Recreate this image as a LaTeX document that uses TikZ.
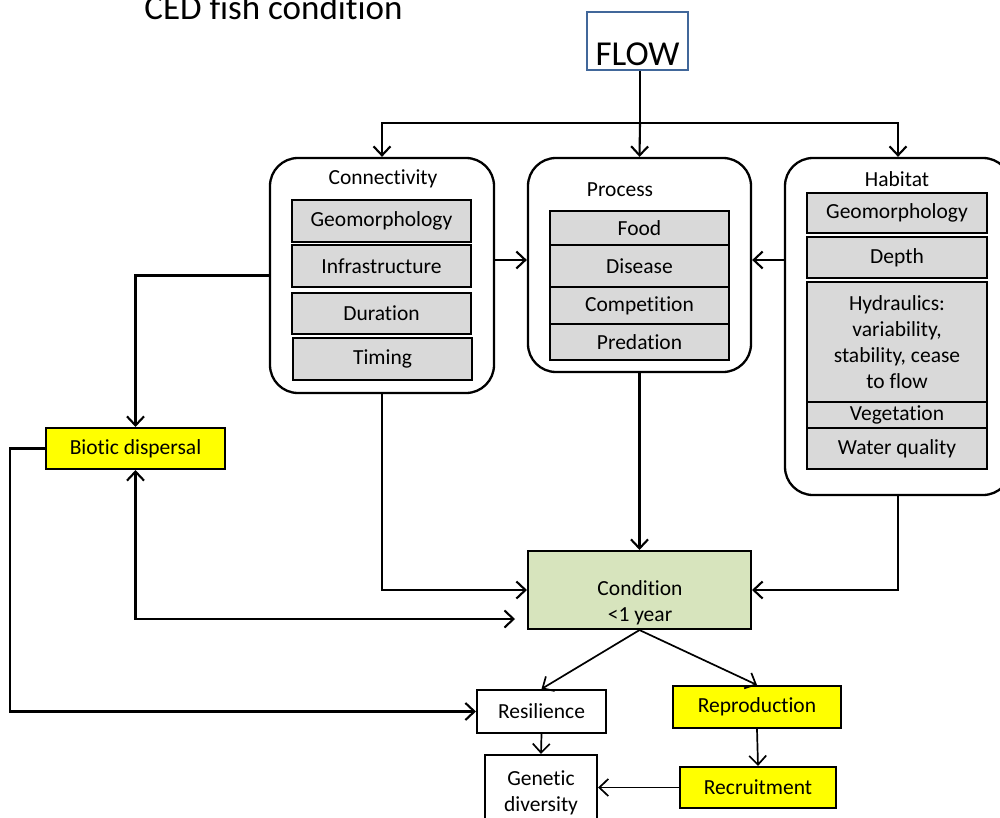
\documentclass[tikz,border=0pt]{standalone}
\usepackage{fontspec}
\setmainfont{Carlito}[Ligatures=NoCommon]
\usetikzlibrary{arrows.meta}
\definecolor{boxgrey}{HTML}{D9D9D9}
\definecolor{condgreen}{HTML}{D7E4BD}
\definecolor{flowblue}{HTML}{41679A}
\definecolor{hiyellow}{HTML}{FFFF00}
\begin{document}
\begin{tikzpicture}[x=1pt,y=-1pt,line width=2.1pt,
  every node/.style={font=\fontsize{21.5}{26}\selectfont},
  big/.style={font=\fontsize{35}{40}\selectfont},
  arr/.style={-{Straight Barb[length=9pt,width=17pt]}},
  twoarr/.style={{Straight Barb[length=9pt,width=17pt]}-{Straight Barb[length=9pt,width=17pt]}},
  group/.style={draw,fill=white,rounded corners=28pt,line width=2.3pt},
  item/.style={draw,fill=boxgrey,inner sep=1pt,minimum width=179pt,align=center,line width=2.3pt},
  plainbox/.style={draw,fill=white,inner sep=1pt,align=center},
  yellowbox/.style={draw,fill=hiyellow,inner sep=1pt}]
\useasboundingbox (0,0) rectangle (1000,818);
% title and flow
\node[big,anchor=base west] (title) at (140,20) {CED fish condition};
\node[big,draw=flowblue,line width=2.6pt,minimum width=101pt,inner sep=4pt,
  text height=50pt,text depth=0pt] (flow) at (637.5,41) {FLOW};
\coordinate (split) at (640,123);
% containers
\node[group,minimum width=224pt,minimum height=235pt] (conn) at (382,275.5) {};
\node[group,minimum width=223pt,minimum height=214pt] (proc) at (639.5,265) {};
\node[group,minimum width=226pt,minimum height=337pt] (hab) at (898,326.5) {};
\node (conntitle) at (383,179) {Connectivity};
\node (proctitle) at (620,190) {Process};
\node (habtitle) at (897,179) {Habitat};
% connectivity items
\node[item,minimum height=42pt] (cgeo) at (381.5,221) {Geomorphology};
\node[item,minimum height=42pt] (cinfra) at (381.5,266) {Infrastructure};
\node[item,minimum height=41pt] (cdur) at (381.5,313.5) {Duration};
\node[item,minimum height=42pt] (ctime) at (382.5,359) {Timing};
% process items
\node[item,minimum height=34pt] (pfood) at (639.5,228) {Food};
\node[item,minimum height=42pt] (pdis) at (639.5,266) {Disease};
\node[item,minimum height=37pt] (pcomp) at (639.5,305.5) {Competition};
\node[item,minimum height=36pt] (ppred) at (639.5,342) {Predation};
% habitat items
\node[item,minimum width=180pt,minimum height=40pt] (hgeo) at (897,213) {Geomorphology};
\node[item,minimum width=180pt,minimum height=41pt] (hdepth) at (897,257.5) {Depth};
\node[item,minimum width=180pt,minimum height=120pt] (hhyd) at (897,342)
  {Hydraulics:\\variability,\\stability, cease\\to flow};
\node[item,minimum width=180pt,minimum height=26pt] (hveg) at (897,415) {Vegetation};
\node[item,minimum width=180pt,minimum height=41pt] (hwq) at (897,448.5) {Water quality};
% outcome boxes
\node[yellowbox,minimum width=179pt,minimum height=41pt] (bio) at (135.5,448.5) {Biotic dispersal};
\node[draw,fill=condgreen,minimum width=223pt,minimum height=78pt] (cond) at (639.5,590) {};
\node[align=center] (condtext) at (640,603) {Condition\\<1 year};
\node[plainbox,minimum width=129pt,minimum height=43pt] (res) at (541.5,711.5) {Resilience};
\node[plainbox,minimum width=112pt,minimum height=75pt] (gen) at (541,792.5) {Genetic\\diversity};
\node[yellowbox,minimum width=168pt,minimum height=42pt] (repro) at (757,707) {Reproduction};
\node[yellowbox,minimum width=156pt,minimum height=41pt] (recr) at (758,787.5) {Recruitment};
% connectors
\draw (flow.south -| split) -- (split);
\draw[arr] (split) -- (proc.north);
\draw[arr] (split) -| (conn.north);
\draw[arr] (split) -| (hab.north);
\draw[arr] (conn.east |- 0,260) -- (proc.west |- 0,260);
\draw[arr] (hab.west |- 0,260) -- (proc.east |- 0,260);
\draw[arr] (conn.west) -| (bio.north);
\draw[arr] (bio.west) -- (10,448.5) |- (res.west);
\coordinate (bioin) at (515,619);
\draw[twoarr] (bio.south) |- (bioin);
\draw[arr] (conn.south) |- (cond.west);
\draw[arr] (proc.south) -- (cond.north);
\draw[arr] (hab.south) |- (cond.east);
\draw[arr,line width=1.7pt] (cond.south) -- (res.north);
\draw[arr,line width=1.7pt] (cond.south) -- (repro.north);
\draw[arr,line width=1.7pt] (res.south) -- (gen.north);
\draw[arr,line width=1.7pt] (repro.south) -- (recr.north);
\draw[arr,line width=1.7pt] (recr.west) -- (recr.west -| gen.east);
\end{tikzpicture}
\end{document}
